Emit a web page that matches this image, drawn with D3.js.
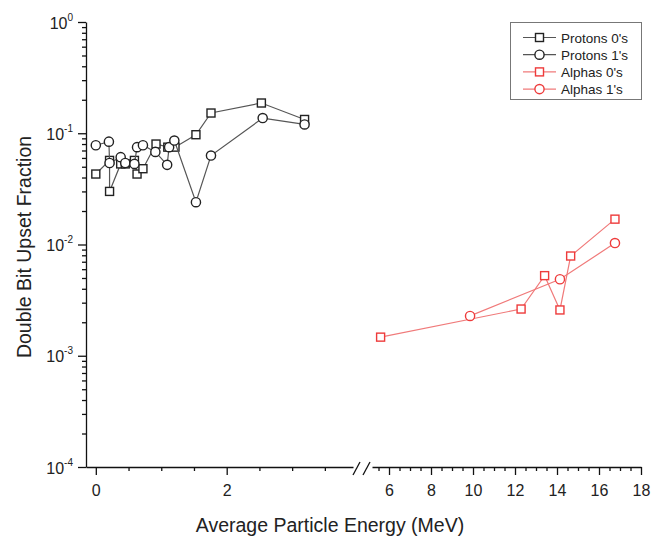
<!DOCTYPE html>
<html>
<head>
<meta charset="utf-8">
<script src="https://cdn.jsdelivr.net/npm/d3@7"></script>
<style>
  body { margin: 0; background: #fff; }
  text { font-family: "Liberation Sans", Arial, sans-serif; fill: #222; }
  .axis path, .axis line { stroke: #111; stroke-width: 1.3; }
</style>
</head>
<body>
<div id="chart"></div>
<script>
// values
const protonEnergy = [0.0, 0.21, 0.21, 0.38, 0.45, 0.59, 0.63, 0.72, 0.92, 1.10, 1.21, 1.53, 1.76, 2.53, 3.19];
const protons0 = [0.043, 0.057, 0.030, 0.053, 0.053, 0.057, 0.043, 0.048, 0.080, 0.075, 0.075, 0.097, 0.152, 0.187, 0.133];
const protonEnergy1 = [0.0, 0.2, 0.21, 0.38, 0.45, 0.59, 0.63, 0.72, 0.91, 1.09, 1.12, 1.2, 1.53, 1.76, 2.55, 3.19];
const protons1 = [0.078, 0.084, 0.054, 0.061, 0.054, 0.053, 0.075, 0.078, 0.068, 0.052, 0.075, 0.086, 0.024, 0.063, 0.137, 0.12];
const alphaEnergy0 = [5.6, 12.29, 13.41, 14.14, 14.65, 16.76];
const alphas0 = [0.00147, 0.00263, 0.00525, 0.00258, 0.00788, 0.0169];
const alphaEnergy1 = [9.86, 14.14, 16.76];
const alphas1 = [0.00228, 0.00487, 0.0103];

const yTicks = [1e-4, 1e-3, 1e-2, 1e-1, 1];
const xTicksLeft = [0, 2];
const xTicksRight = [6, 8, 10, 12, 14, 16, 18];

const series = [
  { name: "Protons 0's", x: protonEnergy, y: protons0, shape: "square", color: "#222", line: "#555", side: "left" },
  { name: "Protons 1's", x: protonEnergy1, y: protons1, shape: "circle", color: "#222", line: "#555", side: "left" },
  { name: "Alphas 0's", x: alphaEnergy0, y: alphas0, shape: "square", color: "#ee3b3b", line: "#f07a7a", side: "right" },
  { name: "Alphas 1's", x: alphaEnergy1, y: alphas1, shape: "circle", color: "#ee3b3b", line: "#f07a7a", side: "right" }
];

const width = 654, height = 539;

const svg = d3.select("#chart").append("svg")
  .attr("width", width)
  .attr("height", height);

const xLeft = d3.scaleLinear().domain([-0.15, 3.93]).range([86, 353]);
const xRight = d3.scaleLinear().domain([5.19, 18]).range([372, 641]);
const y = d3.scaleLog().domain([1e-4, 1]).range([467, 22]);
const yBase = y.range()[0];

// Axes

const minorY = [];
for (let e = -4; e < 0; e++) {
  for (let m = 2; m <= 9; m++) minorY.push(m * Math.pow(10, e));
}

svg.append("g")
  .attr("class", "axis")
  .attr("transform", `translate(${xLeft.range()[0]},0)`)
  .call(d3.axisLeft(y).tickValues(minorY).tickSize(4).tickFormat(""))
  .call(g => g.select(".domain").remove());

const yAxis = svg.append("g")
  .attr("class", "axis")
  .attr("transform", `translate(${xLeft.range()[0]},0)`)
  .call(d3.axisLeft(y).tickValues(yTicks).tickSize(8).tickSizeOuter(0).tickFormat(""));

yAxis.selectAll(".tick").append("text")
  .attr("x", -13)
  .attr("y", 6)
  .attr("text-anchor", "end")
  .style("font-size", "16px")
  .each(function(d) {
    const t = d3.select(this);
    t.append("tspan").text("10");
    t.append("tspan")
      .attr("dy", -8)
      .style("font-size", "10px")
      .text(Math.round(Math.log10(d)));
  });

function bottomAxis(scale, majors, minorStep) {
  const [d0, d1] = scale.domain();
  const minors = d3.range(Math.ceil(d0 / minorStep) * minorStep, d1 + 1e-9, minorStep)
    .filter(v => !majors.some(m => Math.abs(m - v) < 1e-9));
  svg.append("g")
    .attr("class", "axis")
    .attr("transform", `translate(0,${yBase})`)
    .call(d3.axisBottom(scale).tickValues(minors).tickSize(4).tickFormat(""))
    .call(g => g.select(".domain").remove());
  svg.append("g")
    .attr("class", "axis")
    .attr("transform", `translate(0,${yBase})`)
    .call(d3.axisBottom(scale).tickValues(majors).tickSize(8).tickSizeOuter(0).tickFormat(d3.format("d")))
    .call(g => g.selectAll("text").attr("y", 18).style("font-size", "16px"));
}

bottomAxis(xLeft, xTicksLeft, 0.5);
bottomAxis(xRight, xTicksRight, 0.5);

// break marks
const breakX = [354, 364];
svg.append("g")
  .selectAll("line")
  .data(breakX)
  .join("line")
  .attr("x1", d => d - 1)
  .attr("y1", yBase + 8)
  .attr("x2", d => d + 6)
  .attr("y2", yBase - 5)
  .attr("stroke", "#111")
  .attr("stroke-width", 1.3);

// Axis titles

svg.append("text")
  .attr("x", 330)
  .attr("y", 532)
  .attr("text-anchor", "middle")
  .style("font-size", "19.5px")
  .text("Average Particle Energy (MeV)");

svg.append("text")
  .attr("transform", "translate(31,247) rotate(-90)")
  .attr("text-anchor", "middle")
  .style("font-size", "19.5px")
  .text("Double Bit Upset Fraction");

// Markers

function drawMarker(sel, shape, color) {
  if (shape === "square") {
    sel.append("rect")
      .attr("x", -4).attr("y", -4)
      .attr("width", 8).attr("height", 8)
      .attr("fill", "#fff")
      .attr("stroke", color)
      .attr("stroke-width", 1.4);
  } else {
    sel.append("circle")
      .attr("r", 4.6)
      .attr("fill", "#fff")
      .attr("stroke", color)
      .attr("stroke-width", 1.4);
  }
}

series.forEach(s => {
  const xs = s.side === "left" ? xLeft : xRight;
  const pts = s.x.map((v, i) => [v, s.y[i]]);
  const line = d3.line().x(d => xs(d[0])).y(d => y(d[1]));

  svg.append("path")
    .datum(pts)
    .attr("d", line)
    .attr("fill", "none")
    .attr("stroke", s.line)
    .attr("stroke-width", 1.2);

  svg.append("g")
    .selectAll("g")
    .data(pts)
    .join("g")
    .attr("transform", d => `translate(${xs(d[0])},${y(d[1])})`)
    .each(function() { drawMarker(d3.select(this), s.shape, s.color); });
});

// Legend

const legend = svg.append("g");

legend.append("rect")
  .attr("x", 510.5)
  .attr("y", 22.5)
  .attr("width", 131)
  .attr("height", 77)
  .attr("fill", "#fff")
  .attr("stroke", "#777")
  .attr("stroke-width", 1);

const rows = legend.selectAll("g.row")
  .data(series)
  .join("g")
  .attr("class", "row")
  .attr("transform", (d, i) => `translate(0,${37.5 + i * 17.2})`);

rows.append("line")
  .attr("x1", 523).attr("x2", 556)
  .attr("stroke", d => d.line)
  .attr("stroke-width", 1.2);

rows.append("g")
  .attr("transform", "translate(539.5,0)")
  .each(function(d) { drawMarker(d3.select(this), d.shape, d.color); });

rows.append("text")
  .attr("x", 561)
  .attr("y", 5)
  .style("font-size", "13.5px")
  .text(d => d.name);
</script>
</body>
</html>
